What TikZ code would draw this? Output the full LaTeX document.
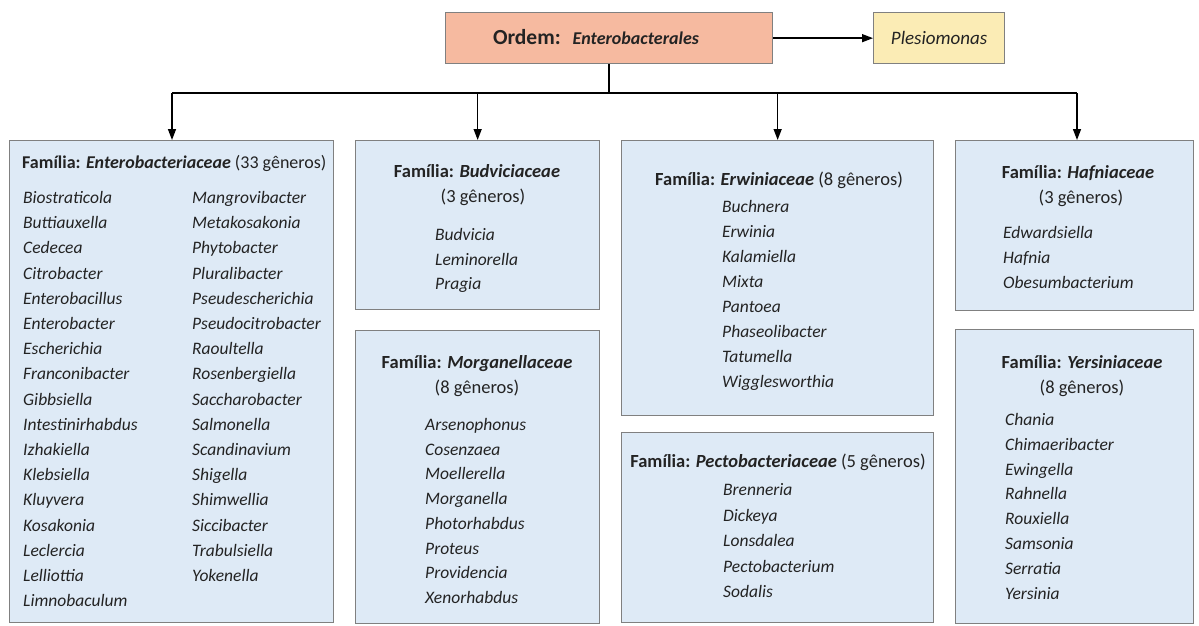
\documentclass[tikz,border=0pt]{standalone}
\usepackage{fontspec}
\setmainfont{Carlito}
\usetikzlibrary{arrows.meta}
\definecolor{famblue}{RGB}{222,234,246}
\definecolor{boxgray}{RGB}{128,128,128}
\definecolor{ordfill}{RGB}{246,186,160}
\definecolor{plesfill}{RGB}{251,236,181}
\definecolor{txt}{RGB}{35,35,35}
\begin{document}
\begin{tikzpicture}[x=1pt,y=-1pt,
  famb/.style={draw=boxgray, fill=famblue, line width=1.3pt, anchor=north west, inner sep=0pt},
  topb/.style={draw=boxgray, line width=1.3pt, anchor=north west, inner sep=0pt},
  ttl/.style={font=\fontsize{18.5}{21}\selectfont, text=txt, inner sep=0pt, anchor=base},
  gen/.style={font=\fontsize{17.5}{20}\selectfont\itshape, text=txt, inner sep=0pt, anchor=base west},
  conn/.style={line width=1.4pt, black},
  arr/.style={conn, -{Triangle[length=11pt,width=8pt]}}
]
\useasboundingbox (0,0) rectangle (1199,626);
% top boxes
\node[topb, fill=ordfill, minimum width=327pt, minimum height=51pt] (ordem) at (445,12) {};
\node[anchor=base, text=txt, inner sep=0pt] (ordt) at (596,45)
  {\fontsize{21.5}{24}\selectfont\bfseries Ordem:\hspace{12pt}\fontsize{18}{22}\selectfont\itshape Enterobacterales};
\node[topb, fill=plesfill, minimum width=131pt, minimum height=51pt, text=txt,
  font=\fontsize{19}{22}\selectfont\itshape] (ples) at (873,12) {Plesiomonas};
% family boxes
\node[famb, minimum width=324pt, minimum height=482pt] (ent) at (9,140) {};
\node[famb, minimum width=244pt, minimum height=169pt] (bud) at (355,140) {};
\node[famb, minimum width=244pt, minimum height=293pt] (mor) at (355,330) {};
\node[famb, minimum width=312pt, minimum height=275pt] (erw) at (621,140) {};
\node[famb, minimum width=312pt, minimum height=190pt] (pec) at (621,432) {};
\node[famb, minimum width=238pt, minimum height=170pt] (haf) at (955,140) {};
\node[famb, minimum width=238pt, minimum height=294pt] (yer) at (955,329) {};
% connectors
\coordinate (hl) at (172,93);
\coordinate (hm) at (ordem.south |- hl);
\coordinate (hr) at (1077,93);
\draw[conn] (ordem.south) -- (hm);
\draw[conn] (hl) -- (hr);
\draw[arr] (ordem.east) -- (ples.west);
\draw[arr] (hl) -- (hl |- ent.north);
\draw[arr] (bud.north |- hl) -- (bud.north);
\draw[arr] (erw.north |- hl) -- (erw.north);
\draw[arr] (hr) -- (hr |- haf.north);
% titles
\node[ttl, anchor=base west, font=\fontsize{18}{21}\selectfont] (entt) at (22,168.5) {{\bfseries Família: {\itshape Enterobacteriaceae}} (33 gêneros)};
\node[ttl] (budt) at (477,177.5) {{\bfseries Família: {\itshape Budviciaceae}}};
\node[ttl] (budn) at (483,202.5) {(3 gêneros)};
\node[ttl] (mort) at (477,368.5) {{\bfseries Família: {\itshape Morganellaceae}}};
\node[ttl] (morn) at (477,393.5) {(8 gêneros)};
\node[ttl] (erwt) at (779,185.5) {{\bfseries Família: {\itshape Erwiniaceae}} (8 gêneros)};
\node[ttl] (pect) at (778,467.5) {{\bfseries Família: {\itshape Pectobacteriaceae}} (5 gêneros)};
\node[ttl] (haft) at (1078,178.5) {{\bfseries Família: {\itshape Hafniaceae}}};
\node[ttl] (hafn) at (1081,203.5) {(3 gêneros)};
\node[ttl] (yert) at (1082,368.5) {{\bfseries Família: {\itshape Yersiniaceae}}};
\node[ttl] (yern) at (1082,393.5) {(8 gêneros)};
% genera
\foreach \g [count=\i] in {Biostraticola,Buttiauxella,Cedecea,Citrobacter,Enterobacillus,Enterobacter,Escherichia,Franconibacter,Gibbsiella,Intestinirhabdus,Izhakiella,Klebsiella,Kluyvera,Kosakonia,Leclercia,Lelliottia,Limnobaculum}
  \node[gen] (ea\i) at (23,{178.3+25.2*\i}) {\g};
\foreach \g [count=\i] in {Mangrovibacter,Metakosakonia,Phytobacter,Pluralibacter,Pseudescherichia,Pseudocitrobacter,Raoultella,Rosenbergiella,Saccharobacter,Salmonella,Scandinavium,Shigella,Shimwellia,Siccibacter,Trabulsiella,Yokenella}
  \node[gen] (eb\i) at (192,{178.3+25.2*\i}) {\g};
\foreach \g [count=\i] in {Budvicia,Leminorella,Pragia}
  \node[gen] (bg\i) at (435,{216+24.5*\i}) {\g};
\foreach \g [count=\i] in {Arsenophonus,Cosenzaea,Moellerella,Morganella,Photorhabdus,Proteus,Providencia,Xenorhabdus}
  \node[gen] (mg\i) at (425,{405.8+24.7*\i}) {\g};
\foreach \g [count=\i] in {Buchnera,Erwinia,Kalamiella,Mixta,Pantoea,Phaseolibacter,Tatumella,Wigglesworthia}
  \node[gen] (wg\i) at (722,{187.5+25*\i}) {\g};
\foreach \g [count=\i] in {Brenneria,Dickeya,Lonsdalea,Pectobacterium,Sodalis}
  \node[gen] (pg\i) at (723,{470+25.5*\i}) {\g};
\foreach \g [count=\i] in {Edwardsiella,Hafnia,Obesumbacterium}
  \node[gen] (hg\i) at (1003,{213.5+25*\i}) {\g};
\foreach \g [count=\i] in {Chania,Chimaeribacter,Ewingella,Rahnella,Rouxiella,Samsonia,Serratia,Yersinia}
  \node[gen] (yg\i) at (1005,{400.7+24.8*\i}) {\g};
\end{tikzpicture}
\end{document}
